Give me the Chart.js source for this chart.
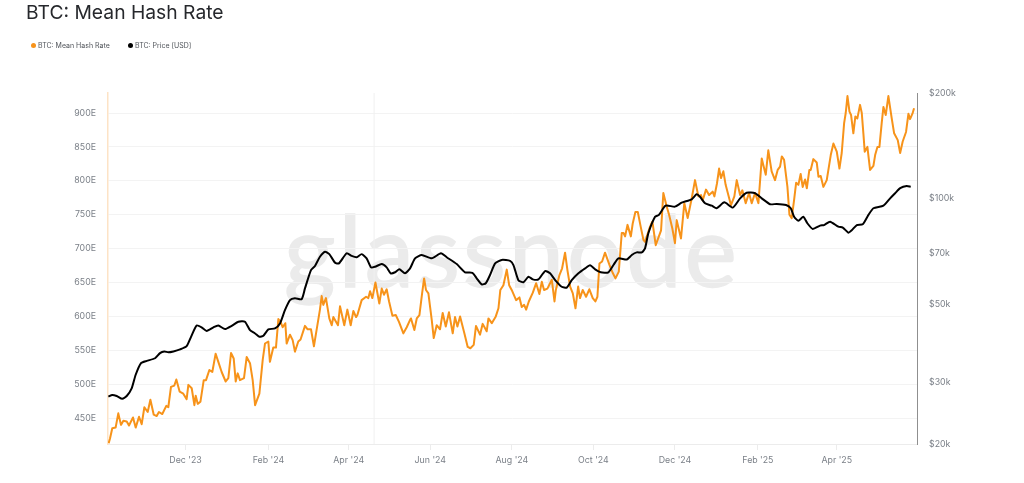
<!DOCTYPE html>
<html>
<head>
<meta charset="utf-8">
<script src="https://cdn.jsdelivr.net/npm/chart.js@4"></script>
<style>
html,body{margin:0;padding:0;background:#fff;width:1024px;height:483px;overflow:hidden;font-family:Inter,"Noto Sans",sans-serif}
#title{position:absolute;left:26px;top:-2px;font-size:19.3px;line-height:28px;color:#26282c;white-space:nowrap}
.leg{position:absolute;top:41px;font-size:7px;line-height:10px;color:#50545a;white-space:nowrap}
.dot{position:absolute;top:43px;width:5px;height:5px;border-radius:50%}
#wm{position:absolute;left:284px;top:184px;font-family:Lato,sans-serif;font-size:99px;line-height:130px;letter-spacing:3px;font-weight:400;color:#ebebeb;-webkit-text-stroke:1.5px #ebebeb;white-space:nowrap}
canvas{position:absolute;left:0;top:0}
</style>
</head>
<body>
<div id="wm">glassnode</div>
<canvas id="c" width="1024" height="483" style="width:1024px;height:483px"></canvas>
<div id="title">BTC: Mean Hash Rate</div>
<div class="dot" style="left:31px;background:#f7931a"></div><div class="leg" style="left:38px">BTC: Mean Hash Rate</div>
<div class="dot" style="left:128px;background:#000"></div><div class="leg" style="left:135px">BTC: Price [USD]</div>
<script>
const hashDays=[0.5,1.5,3.2,5.7,7.7,9.7,11.5,14,15.7,18.7,20.7,23.2,25.2,27.2,29.7,31.7,34.2,36.4,38.1,40.6,43.6,45.1,47.1,49.6,51.1,53.6,56.3,58.8,60.1,62.6,64.6,65.6,67.1,69.1,71.6,73.3,75.8,78,80.5,82.5,85,88,90,92,94,95.5,97,
98.7,101.7,103.7,106.2,108.2,110,113.2,115.7,117.4,119.9,121.1,123.6,125.6,127.4,129.1,130.6,132.6,133.6,136.1,138.1,139.8,142.3,144,147.3,149.3,151.8,154,156,158.5,159.8,161,163,165.5,167.3,168.5,172,173.5,176.7,179,181.5,183.5,185.5,186.5,189.7,193,194.7,196,197.7,200,
202.9,204.7,206.4,208.4,210.2,212.7,215.2,217.6,220.9,223.4,225.9,226.6,229.1,230.9,232.9,234.9,236.4,237.8,239.6,242.1,243.6,245.8,248.3,250.3,252.6,255,257.8,259.5,261.3,263.3,266.5,269,271,273.5,275.2,278.2,280.2,283.2,284.5,287,290,292,293.4,295.7,298.2,300,
301.9,305.2,307.7,309.4,311.2,312.7,314.7,317.7,320.2,322.6,324.4,326.1,328.6,331.9,333.9,334.9,337.6,339.6,341.8,343.6,345.6,347.6,349.6,351.6,353,355,357.5,360,362.5,364.5,366,367.5,369.5,371.7,375,377.5,379.5,382,384.2,385.5,386.7,388.5,391,392.4,394.4,396.2,398.4,400.4,
401.6,405.3,407.1,409.6,413.6,415.3,417.8,419.6,422,424,425.3,428.5,431,433.5,436.5,439,441.5,443.5,444.7,447.2,449.5,452.2,453.5,455.4,457,458.4,460.2,461.9,463.9,465.9,468.4,470.2,472.7,474.4,476.9,479.4,481.4,483.9,486.4,488.9,490.1,491.9,493.8,496.3,498.8,500.8,
502.6,503.9,505.6,508.1,509.6,511.3,513.1,514.6,516.3,518,519.5,521.3,522.6,524.5,525.5,527.5,530,531.3,533,535,537.5,540.5,542.5,545,547,548.7,550.5,551.7,553,554.5,555.7,557.4,558.9,560.4,562.4,563.7,564.9,565.9,567.9,569.9,572.4,573.7,575.4,576.9,578.6,579.9,581.6,583.6,586.1,587.9,590.6,592.4,594.3,596.8,598.6,599.8,601.6,602.8];
const hashValues=[413,420,435,436,457,440,446,445,439,451,436,452,441,466,459,477,455,453,459,456,468,466,496,498,507,489,486,478,499,494,469,483,471,474,506,506,521,518,545,533,518,504,509,546,538,504,516,506,
509,540,531,506,469,486,536,560,563,533,554,554,596,592,584,590,560,573,565,548,563,566,586,581,581,556,580,610,630,617,627,597,587,599,587,615,587,610,587,608,599,602,624,629,627,637,627,650,619,
641,632,640,622,601,602,592,575,584,595,597,580,597,602,634,656,639,634,595,568,587,581,605,585,606,575,599,585,600,575,555,553,558,586,573,589,578,597,590,600,612,639,646,669,646,639,
624,628,614,617,610,622,635,649,633,651,639,641,654,622,639,661,671,694,668,644,634,612,644,627,639,629,640,627,622,629,678,681,694,676,664,656,666,723,723,718,735,718,737,754,754,732,713,710,
732,740,705,727,782,762,750,730,708,742,715,767,745,774,801,777,779,771,787,779,784,777,796,818,804,814,794,779,764,777,801,779,786,767,782,767,782,767,833,823,809,845,814,801,816,821,
836,831,791,750,745,772,797,794,810,791,802,789,816,816,832,827,806,807,791,801,838,855,843,818,841,885,900,925,902,897,870,895,892,912,900,870,843,850,816,822,838,850,850,885,909,897,925,892,870,860,841,858,872,899,891,899,907,916];
const priceDays=[0.3,3.2,6.5,10.7,14,17.7,20.7,24.7,29,35.2,38.9,42.1,45.1,48.9,53.9,58.8,62.1,66.3,70,73.8,78.8,82.5,87.5,92.5,97.5,
102.4,106.2,110,113.2,116.2,119.9,124.9,128.6,132.4,136.1,139.8,144.8,147.3,151.8,154.8,158.5,162.3,165.5,169.8,172.7,178.5,182.2,186,189.7,193.4,196.7,199.7,
204.7,208.4,211.4,214.7,217.9,222.1,225.9,229.6,234.6,242.1,249,253.3,260.8,267,272.5,275.7,279.5,282.5,285.7,289.5,294.4,300.7,
303.2,306.9,310.7,314.4,317.7,321.9,326.9,330.6,334.4,339.3,343.1,346.8,351.8,356.8,360.5,364.3,368.5,374.2,378,381.7,388,391.7,395.4,399.2,
401.6,404.1,409.1,412,417,424,429,436.5,440.2,442.7,446.5,451.5,455.2,460.9,467.2,472.7,477.6,483.9,488.9,495.1,500.1,
507.1,510.6,513.1,516.3,520,523,527,532.5,535.5,540,546.2,549.5,553.7,556.2,560,564.4,568.7,572.4,579.9,584.9,588.6,592.4,597.3,600.3,602.8];
const priceValues=[27.3,27.6,27.4,26.9,27.4,28.8,31.5,34,34.5,35.1,36.3,36.7,36.5,36.7,37.2,38,40.4,43.5,43,42,43,43.5,42.5,43.4,44.6,
44.6,42.2,41.3,40.4,40.7,42.4,42.7,44.1,48.2,51.4,52,51.7,55.5,62.6,64.3,68.3,70.6,69.5,65.7,65.4,69.9,68.7,68.1,69.5,67.6,63.7,64,
65.1,63.7,61.3,61.7,62.9,61.3,63.3,67.6,69.1,67.6,69.9,68.1,65.1,61.7,61.5,59.3,57,57.4,60.6,65.4,66.9,66.5,
64.7,58.6,57.8,59.9,58.9,58.9,62.2,61.3,58.6,56.1,55.8,58.6,61.3,63.3,64.6,62.9,61.7,61.7,64.7,67.6,67.1,69.1,70.3,70.3,
72.2,79.7,88.8,89.9,95.5,94.9,97.4,99.6,102.9,101.3,97,95.5,93.9,97.6,94.3,100.2,104,103.6,100.2,96.4,96.6,
95.9,93.9,88.8,86.5,88.8,85.1,82,83.8,84.1,86,83.2,82.7,80,81.3,84.1,84.5,89.9,93.9,95.5,100.2,103.6,107.1,108.7,108.1];
const xTickDays=[58,120,180,241,302,363,424,486,545];
const xTickLabels=["Dec '23","Feb '24","Apr '24","Jun '24","Aug '24","Oct '24","Dec '24","Feb '25","Apr '25"];
const leftTicks=[450,500,550,600,650,700,750,800,850,900];
const rightTicks=[20,30,50,70,100,200];
const markerDays=[199,199];
const markerValues=[411.8,929.5];

const zip=(a,b)=>a.map((v,i)=>({x:v,y:b[i]}));
const tickStyle={color:'#7b8088',font:{family:'Inter,"Noto Sans",sans-serif',size:8.8}};
new Chart(document.getElementById('c'),{
  type:'line',
  data:{datasets:[
    {label:'BTC: Price [USD]',data:zip(priceDays,priceValues),yAxisID:'yR',borderColor:'#000',borderWidth:2,pointRadius:0,tension:0.2,order:1},
    {label:'BTC: Mean Hash Rate',data:zip(hashDays,hashValues),yAxisID:'yL',borderColor:'#f7931a',borderWidth:2,pointRadius:0,tension:0,borderJoinStyle:'round',order:2},
    {label:'marker',data:zip(markerDays,markerValues),yAxisID:'yL',borderColor:'#f0f0f0',borderWidth:1,pointRadius:0,order:3}
  ]},
  options:{
    responsive:false,animation:false,devicePixelRatio:1,
    layout:{padding:{top:93,left:0,right:0,bottom:0}},
    plugins:{legend:{display:false},title:{display:false},tooltip:{enabled:false}},
    scales:{
      x:{type:'linear',min:0,max:605,
        afterBuildTicks:s=>{s.ticks=xTickDays.map(v=>({value:v}))},
        afterFit:s=>{s.height=39},
        grid:{drawOnChartArea:false,color:'#ececec',tickLength:6},
        border:{color:'#ececec'},
        ticks:{...tickStyle,maxRotation:0,autoSkip:false,padding:5,callback:v=>xTickLabels[xTickDays.indexOf(v)]}},
      yL:{type:'linear',position:'left',min:411.8,max:929.5,
        afterBuildTicks:s=>{s.ticks=leftTicks.map(v=>({value:v}))},
        afterFit:s=>{s.width=108},
        grid:{color:'#f3f3f3',drawTicks:false},
        border:{color:'#fde3c6',width:1.5},
        ticks:{...tickStyle,padding:12,autoSkip:false,callback:v=>v+'E'}},
      yR:{type:'logarithmic',position:'right',min:20,max:200,
        afterBuildTicks:s=>{s.ticks=rightTicks.map(v=>({value:v}))},
        afterFit:s=>{s.width=107},
        grid:{drawOnChartArea:false,drawTicks:false},
        border:{color:'#8f8f8f',width:1},
        ticks:{...tickStyle,padding:12,autoSkip:false,callback:v=>'$'+v+'k'}}
    }
  }
});
</script>
</body>
</html>
